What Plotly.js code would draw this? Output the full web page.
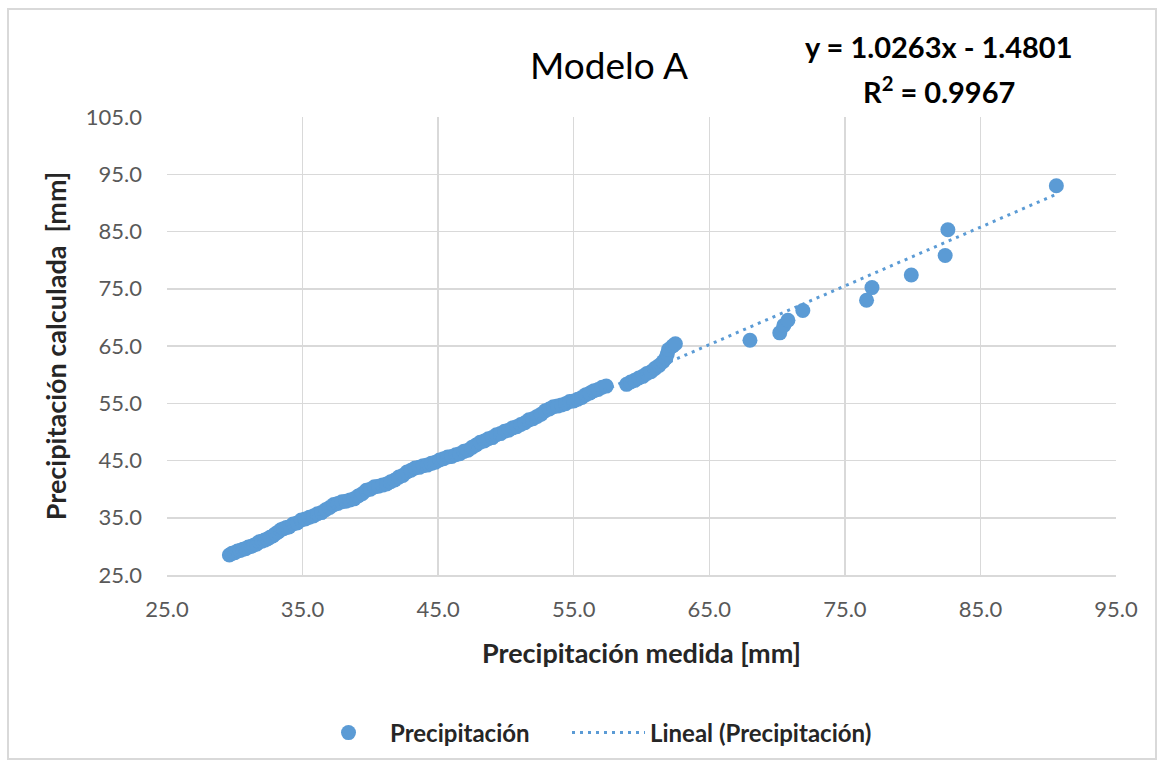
<!DOCTYPE html>
<html>
<head>
<meta charset="utf-8">
<script src="https://cdn.plot.ly/plotly-3.0.1.min.js"></script>
<style>
  html, body { margin: 0; padding: 0; background: #ffffff; }
  #wrap { position: relative; width: 1162px; height: 770px; }
  #chart { position: absolute; left: 0; top: 0; width: 1162px; height: 770px; }
  #frame { position: absolute; left: 7px; top: 8px; width: 1150px; height: 752px;
           border: 2px solid #d9d9d9; pointer-events: none; box-sizing: border-box; }
</style>
</head>
<body>
<div id="wrap"><div id="chart"></div><div id="frame"></div></div>
<script>
// Measured precipitation [mm] (x) and calculated precipitation [mm] (y)
const medida = [
  29.6, 29.8, 30.0, 30.2, 30.4, 30.6, 30.8, 31.0, 31.2, 31.4,
  31.6, 31.8, 32.0, 32.2, 32.4, 32.6, 32.8, 33.0, 33.2, 33.4,
  33.6, 33.8, 34.0, 34.3, 34.6, 34.9, 35.2, 35.5, 35.8, 36.1,
  36.4, 36.7, 37.0, 37.3, 37.6, 37.9, 38.2, 38.5, 38.8, 39.1,
  39.4, 39.7, 40.0, 40.3, 40.6, 40.9, 41.2, 41.5, 41.8, 42.1,
  42.4, 42.7, 43.0, 43.3, 43.6, 43.9, 44.2, 44.5, 44.8, 45.1,
  45.4, 45.7, 46.0, 46.3, 46.6, 46.9, 47.2, 47.5, 47.8, 48.1,
  48.4, 48.7, 49.0, 49.3, 49.6, 49.9, 50.2, 50.5, 50.8, 51.1,
  51.4, 51.7, 52.0, 52.3, 52.6, 52.9, 53.2, 53.5, 53.8, 54.1,
  54.4, 54.7, 55.0, 55.3, 55.6, 55.9, 56.2, 56.5, 56.8, 57.1,
  57.4, 58.9, 59.2, 59.5, 59.8, 60.1, 60.4, 60.7, 61.0, 61.3,
  61.6, 61.8, 61.9, 62.0, 62.3, 62.5,
  68.0, 70.2, 70.5, 70.8, 71.9, 76.6, 77.0, 79.9, 82.4, 82.6, 90.6
];
const calculada = [
  28.5, 28.8, 28.9, 29.2, 29.3, 29.5, 29.6, 29.9, 30.0, 30.2,
  30.4, 30.8, 30.9, 31.1, 31.3, 31.6, 31.8, 32.2, 32.5, 32.9,
  33.1, 33.3, 33.4, 33.9, 34.1, 34.6, 34.8, 35.1, 35.3, 35.7,
  35.9, 36.4, 36.8, 37.3, 37.5, 37.8, 37.9, 38.1, 38.3, 38.8,
  39.2, 39.8, 40.0, 40.4, 40.5, 40.7, 40.9, 41.3, 41.6, 42.1,
  42.4, 43.0, 43.3, 43.7, 43.8, 44.1, 44.2, 44.5, 44.7, 45.1,
  45.3, 45.6, 45.7, 46.0, 46.2, 46.6, 46.8, 47.3, 47.7, 48.2,
  48.4, 48.8, 49.0, 49.5, 49.7, 50.1, 50.3, 50.7, 50.9, 51.3,
  51.6, 52.1, 52.3, 52.7, 53.1, 53.7, 54.0, 54.4, 54.5, 54.7,
  54.9, 55.3, 55.4, 55.7, 56.0, 56.5, 56.8, 57.2, 57.4, 57.8,
  58.0, 58.3, 58.7, 59.0, 59.4, 59.7, 60.2, 60.5, 61.1, 61.6,
  62.3, 62.9, 63.6, 64.4, 65.0, 65.4,
  66.0, 67.3, 68.6, 69.5, 71.2, 73.0, 75.2, 77.4, 80.8, 85.3, 93.0
];
// Trendline shown on the chart: y = 1.0263x - 1.4801, R² = 0.9967
const slope = 1.0263;
const intercept = -1.4801;
const r2 = 0.9967;
const xTicks = [25, 35, 45, 55, 65, 75, 85, 95];
const yTicks = [25, 35, 45, 55, 65, 75, 85, 95, 105];
const seriesName = "Precipitación";
const trendName = "Lineal (Precipitación)";

const blue = "#5B9BD5";
const xMin = Math.min(...medida), xMax = Math.max(...medida);
const trendX = [xMin, xMax];
const trendY = trendX.map(v => slope * v + intercept);

const fam = "Lato, 'Open Sans', sans-serif";
const tickFont = { family: fam, size: 22, color: "#595959" };
const titleFont = { family: fam, size: 27, color: "#262626", weight: "bold" };
const legendFont = { family: fam, size: 24, color: "#262626", weight: "bold" };

const traces = [
  {
    x: medida, y: calculada, type: "scatter", mode: "markers", name: seriesName,
    marker: { color: blue, size: 15 }, legend: "legend"
  },
  {
    x: trendX, y: trendY, type: "scatter", mode: "lines", name: trendName,
    line: { color: blue, width: 3, dash: "3px,5px" }, legend: "legend2"
  }
];

const layout = {
  width: 1162, height: 770,
  margin: { l: 167, r: 46, t: 117, b: 195 },
  paper_bgcolor: "#ffffff", plot_bgcolor: "#ffffff",
  showlegend: true,
  title: {
    text: "Modelo A",
    font: { family: fam, size: 37, color: "#000000" },
    x: 609 / 1162, xanchor: "center", xref: "container",
    y: 1 - 66 / 770, yanchor: "middle", yref: "container"
  },
  xaxis: {
    range: [25, 95], tickvals: xTicks, ticktext: xTicks.map(v => v.toFixed(1)),
    showgrid: true, gridcolor: "#d9d9d9", gridwidth: 1.5,
    showline: true, linecolor: "#d9d9d9", linewidth: 1.5, zeroline: false,
    ticks: "", tickfont: tickFont, ticklabelstandoff: 14,
    title: { text: "Precipitación medida [mm]", font: titleFont, standoff: 23 },
    automargin: false
  },
  yaxis: {
    range: [25, 105], tickvals: yTicks, ticktext: yTicks.map(v => v.toFixed(1)),
    showgrid: true, gridcolor: "#d9d9d9", gridwidth: 1.5,
    showline: false, zeroline: false,
    ticks: "", tickfont: tickFont, ticklabelstandoff: 24,
    title: { text: "Precipitación calculada&nbsp;&nbsp;[mm]", font: titleFont, standoff: 11 },
    automargin: false
  },
  legend: {
    orientation: "h", x: (307 - 167) / 949, xanchor: "left", y: -0.345, yanchor: "middle",
    font: legendFont, bgcolor: "rgba(0,0,0,0)", itemwidth: 73
  },
  legend2: {
    orientation: "h", x: (567 - 167) / 949, xanchor: "left", y: -0.345, yanchor: "middle",
    font: legendFont, bgcolor: "rgba(0,0,0,0)", itemwidth: 73
  },
  annotations: [
    {
      xref: "paper", yref: "paper", x: (939 - 167) / 949, y: (575 - 47) / 458,
      xanchor: "center", yanchor: "middle", showarrow: false,
      text: "y = " + slope.toFixed(4) + "x - " + Math.abs(intercept).toFixed(4),
      font: { family: fam, size: 29, color: "#000000", weight: "bold" }
    },
    {
      xref: "paper", yref: "paper", x: (939 - 167) / 949, y: (575 - 90) / 458,
      xanchor: "center", yanchor: "middle", showarrow: false,
      text: "R<sup>2</sup> = " + r2.toFixed(4),
      font: { family: fam, size: 29, color: "#000000", weight: "bold" }
    }
  ]
};

Plotly.newPlot("chart", traces, layout, { displayModeBar: false, staticPlot: true });
</script>
</body>
</html>
